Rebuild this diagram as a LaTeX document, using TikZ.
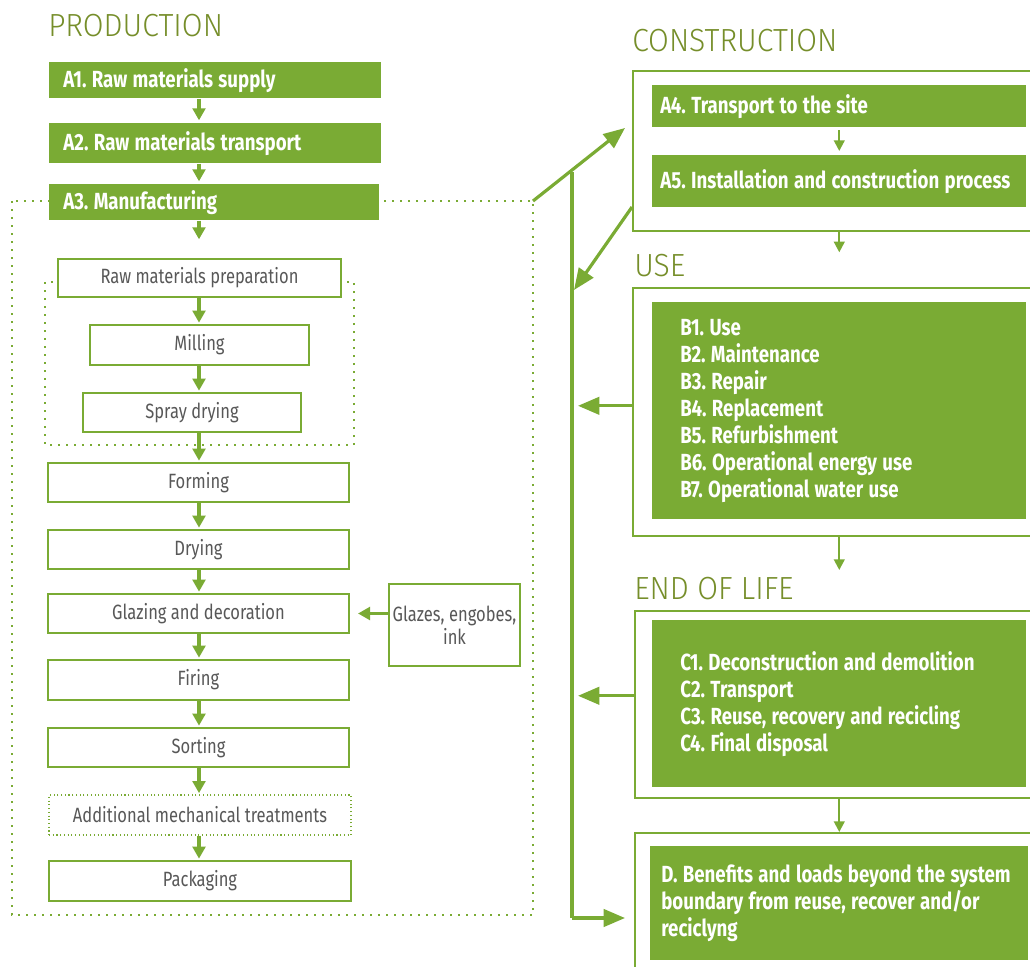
\documentclass[tikz,border=0pt]{standalone}
\usepackage{fontspec}
\setmainfont{Fira Sans}[FakeStretch=0.8,WordSpace=0.8]
\newfontfamily\headfont{Fira Sans Light}[FakeStretch=0.94]
\usepackage{tikz}
\usetikzlibrary{arrows.meta,calc}
\frenchspacing
\definecolor{leaf}{RGB}{122,171,52}
\definecolor{titlegreen}{RGB}{118,142,42}
\definecolor{ink}{RGB}{88,88,88}
\tikzstyle{heading}=[anchor=base west,inner sep=0pt,text=titlegreen,font=\headfont\fontsize{24}{24}\selectfont]
\tikzstyle{phase}=[anchor=north west,fill=leaf,text=white,inner sep=0pt,align=left,font=\bfseries\fontsize{17.5}{20.25}\selectfont,
  execute at begin node={\spaceskip=4pt plus 2pt\relax\xspaceskip=4pt plus 2pt\relax}]
\tikzstyle{stepbox}=[draw=leaf,line width=1.5pt,fill=white,text=ink,inner sep=0pt,font=\fontsize{15.5}{17}\selectfont,
  execute at begin node={\spaceskip=3.3pt plus 1pt\relax\xspaceskip=3.3pt plus 1pt\relax}]
\tikzstyle{frame}=[anchor=north west,draw=leaf,line width=1.2pt,fill=white,inner sep=0pt]
\tikzstyle{boundary}=[draw=leaf,line width=1.5pt,dash pattern=on 1.5pt off 4.5pt]
\tikzstyle{flow}=[draw=leaf,line width=2.4pt,-{Triangle[length=9pt,width=9.5pt]}]
\tikzstyle{thinflow}=[draw=leaf,line width=1.6pt,-{Triangle[length=8pt,width=8pt]}]
\tikzstyle{bigflow}=[draw=leaf,line width=2.4pt,-{Triangle[length=16pt,width=13pt]}]

\begin{document}
\begin{tikzpicture}[x=0.75pt,y=-0.75pt]
  \useasboundingbox (0,0) rectangle (1030,966);
  % system boundaries of the manufacturing stage
  \draw[boundary] (12,201) rectangle (533,915);
  \draw[boundary] (45,282) rectangle (354,445);
  \coordinate (mfgcorner) at (533,201);
  \coordinate (axis) at (199,0);

  % production
  \node[heading] (prodtitle) at (48,37) {PRODUCTION};
  \node[phase,minimum width=249pt,minimum height=27pt,text width=228pt] (a1) at (49,62) {A1. Raw materials supply};
  \node[phase,minimum width=249pt,minimum height=30pt,text width=228pt] (a2) at (49,123) {A2. Raw materials transport};
  \node[phase,minimum width=247.5pt,minimum height=27pt,text width=226.5pt] (a3) at (49,184) {A3. Manufacturing};

  \node[stepbox,minimum width=212.25pt,minimum height=28.5pt] (prep) at (199.5,278) {Raw materials preparation};
  \node[stepbox,minimum width=164.25pt,minimum height=30pt] (milling) at (199.5,345) {Milling};
  \node[stepbox,minimum width=163.5pt,minimum height=29.25pt] (spray) at (192,412.5) {Spray drying};
  \node[stepbox,minimum width=225.75pt,minimum height=29.25pt] (forming) at (198.5,482.5) {Forming};
  \node[stepbox,minimum width=225.75pt,minimum height=29.25pt] (drying) at (198.5,549.5) {Drying};
  \node[stepbox,minimum width=225.75pt,minimum height=29.25pt] (glazing) at (198.5,613.5) {Glazing and decoration};
  \node[stepbox,minimum width=225.75pt,minimum height=30pt] (firing) at (198.5,680) {Firing};
  \node[stepbox,minimum width=225.75pt,minimum height=29.25pt] (sorting) at (198.5,747.5) {Sorting};
  \node[stepbox,minimum width=226.5pt,minimum height=30pt,line width=0.8pt,dash pattern=on 0.8pt off 2pt] (extra) at (200,815) {Additional mechanical treatments};
  \node[stepbox,minimum width=226.5pt,minimum height=30pt] (packaging) at (200,881) {Packaging};
  \node[stepbox,line width=1.1pt,minimum width=98.25pt,minimum height=61.5pt,text width=95pt,align=center] (glazes) at (454.5,625) {Glazes, engobes,\\ink};

  \draw[flow,shorten >=2pt] (a1.south -| axis) -- (a2.north -| axis);
  \draw[flow,shorten >=2pt] (a2.south -| axis) -- (a3.north -| axis);
  \draw[flow,shorten >=14pt] (a3.south -| axis) -- (prep.north -| axis);
  \draw[flow,shorten >=1pt] (prep.south -| axis) -- (milling.north -| axis);
  \draw[flow,shorten >=1pt] (milling.south -| axis) -- (spray.north -| axis);
  \draw[flow,shorten >=1pt] (spray.south -| axis) -- (forming.north -| axis);
  \draw[flow,shorten >=1pt] (forming.south -| axis) -- (drying.north -| axis);
  \draw[flow,shorten >=1pt] (drying.south -| axis) -- (glazing.north -| axis);
  \draw[flow,shorten >=1pt] (glazing.south -| axis) -- (firing.north -| axis);
  \draw[flow,shorten >=1pt] (firing.south -| axis) -- (sorting.north -| axis);
  \draw[flow,shorten >=1pt] (sorting.south -| axis) -- (extra.north -| axis);
  \draw[flow,shorten >=1pt] (extra.south -| axis) -- (packaging.north -| axis);
  \draw[flow,shorten >=6pt] (glazes.west |- glazing) -- (glazing.east);

  % construction
  \node[heading] (contitle) at (632,52) {CONSTRUCTION};
  \node[frame,minimum width=300pt,minimum height=120pt] (constr) at (632,70) {};
  \node[phase,minimum width=280.5pt,minimum height=31.5pt,text width=268.5pt] (a4) at (652,85) {A4. Transport to the site};
  \node[phase,minimum width=280.5pt,minimum height=39pt,text width=268.5pt] (a5) at (652,155) {A5. Installation and construction process};
  \draw[thinflow,shorten <=2pt,shorten >=3pt] (a4.south) -- (a5.north);

  % use
  \node[heading] (usetitle) at (634,276) {USE};
  \node[frame,minimum width=300pt,minimum height=186pt] (use) at (632,287) {};
  \node[phase,minimum width=280.5pt,minimum height=162.75pt,text width=238.5pt] (b) at (652,302) {B1. Use\\B2. Maintenance\\B3. Repair\\B4. Replacement\\B5. Refurbishment\\B6. Operational energy use\\B7. Operational water use};
  \draw[thinflow,shorten >=26pt] (constr.south -| a4) -- (use.north -| a4);

  % end of life
  \node[heading] (eoltitle) at (634,599) {END OF LIFE};
  \node[frame,minimum width=298pt,minimum height=140.25pt] (eol) at (634,610) {};
  \node[phase,minimum width=280.5pt,minimum height=125.25pt,text width=238.5pt] (c) at (652,620) {C1. Deconstruction and demolition\\C2. Transport\\C3. Reuse, recovery and recicling\\C4. Final disposal};
  \draw[thinflow,shorten >=30pt] (use.south -| a4) -- (eol.north -| a4);

  % beyond the system boundary
  \node[frame,minimum width=298pt,minimum height=103pt] (dout) at (634,832) {};
  \node[phase,minimum width=283.5pt,minimum height=85.5pt,text width=267pt] (d) at (650,846) {D. Benefits and loads beyond the system\\boundary from reuse, recover and/or\\reciclyng};
  \draw[thinflow] (eol.south -| a4) -- (dout.north -| a4);

  % loop back
  \coordinate (spinetop) at (572,172);
  \coordinate (spinebot) at (572,918);
  \coordinate (conin) at (625,128);
  \coordinate (conout) at (632,207);
  \coordinate (spinein) at (574,290);
  \draw[draw=leaf,line width=2.4pt] (spinetop) -- (spinebot);
  \draw[bigflow,shorten >=6.75pt] (spinebot) -- (spinebot -| dout.west);
  \draw[bigflow] (mfgcorner) -- (conin);
  \draw[bigflow] (conout) -- (spinein);
  \draw[bigflow,shorten >=4.5pt] ([yshift=4.5pt]use.west) -- ([yshift=4.5pt]use.west -| spinebot);
  \draw[bigflow,shorten >=4.5pt] ([yshift=6.4pt]eol.west) -- ([yshift=6.4pt]eol.west -| spinebot);
\end{tikzpicture}
\end{document}
